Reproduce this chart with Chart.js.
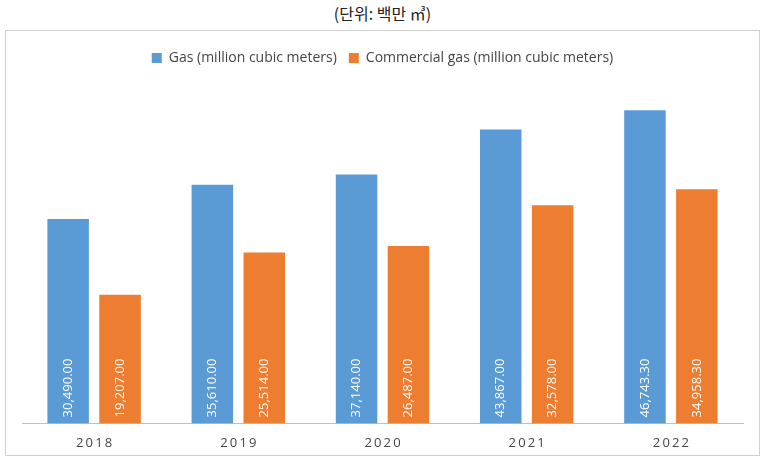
<!DOCTYPE html>
<html>
<head>
<meta charset="utf-8">
<script src="https://cdn.jsdelivr.net/npm/chart.js@4"></script>
<style>
body { margin:0; background:#fff; font-family:"Noto Sans CJK KR","Open Sans",sans-serif; }
#title { position:absolute; left:0; top:1px; width:765px; text-align:center; font-size:16px; color:#222; }
#box { position:absolute; left:5px; top:30px; width:753px; height:424px; border:1px solid #d0d0d0; }
</style>
</head>
<body>
<div id="title">(단위: 백만 ㎥)</div>
<div id="box"><canvas id="bar-chart"></canvas></div>
<script>
var years = ['2018', '2019', '2020', '2021', '2022'];
var gas = [30490.00, 35610.00, 37140.00, 43867.00, 46743.30];
var commercialGas = [19207.00, 25514.00, 26487.00, 32578.00, 34958.30];

// 막대 안에 세로로 값 표시
const innerLabels = {
    id: 'innerLabels',
    afterDatasetsDraw(chart) {
        const ctx = chart.ctx;
        chart.data.datasets.forEach(function(ds, i) {
            chart.getDatasetMeta(i).data.forEach(function(bar, j) {
                ctx.save();
                ctx.translate(bar.x, bar.base - 6);
                ctx.rotate(-Math.PI / 2);
                ctx.fillStyle = '#fff';
                ctx.font = '13px "Open Sans", sans-serif';
                ctx.textAlign = 'left';
                ctx.textBaseline = 'middle';
                ctx.fillText(ds.data[j].toLocaleString('en-US', {minimumFractionDigits: 2, maximumFractionDigits: 2}), 0, 0);
                ctx.restore();
            });
        });
    }
};

var myChart = new Chart(document.getElementById('bar-chart'), {
    type: 'bar',
    data: {
        labels: years,
        datasets: [
            { label: 'Gas (million cubic meters)', data: gas, backgroundColor: '#5B9BD5' },
            { label: 'Commercial gas (million cubic meters)', data: commercialGas, backgroundColor: '#ED7D31' }
        ]
    },
    options: {
        responsive: true,
        maintainAspectRatio: false,
        animation: false,
        categoryPercentage: 0.72,
        barPercentage: 0.8,
        layout: { padding: { left: 16, right: 16, top: 8, bottom: 0 } },
        plugins: {
            tooltip: { enabled: false },
            legend: {
                labels: { boxWidth: 10, boxHeight: 10, color: '#444', font: { size: 14, family: '"Open Sans", sans-serif' }, padding: 12 }
            }
        },
        scales: {
            x: {
                grid: { display: false },
                border: { color: '#bfbfbf' },
                ticks: { color: '#444', font: { size: 13, family: '"Open Sans", sans-serif' }, padding: 4,
                    callback: function(v) { return this.getLabelForValue(v).split('').join('\u2009'); } }
            },
            y: { display: false, min: 0, max: 52000 }
        }
    },
    plugins: [innerLabels]
});
</script>
</body>
</html>
